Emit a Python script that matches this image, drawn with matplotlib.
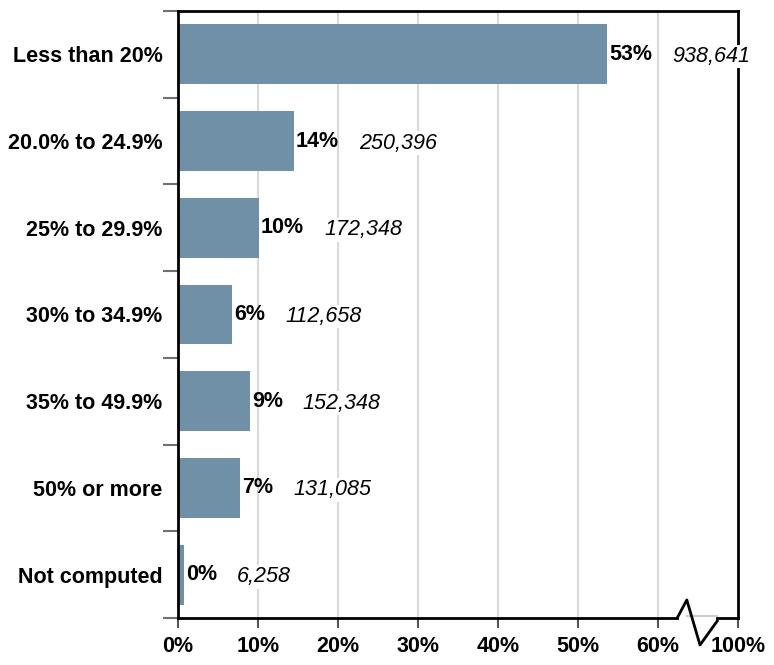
import matplotlib.pyplot as plt
import matplotlib.transforms as mtransforms

plt.rcParams['font.family'] = ['Liberation Sans', 'DejaVu Sans']

categories = ["Less than 20%", "20.0% to 24.9%", "25% to 29.9%", "30% to 34.9%",
              "35% to 49.9%", "50% or more", "Not computed"]
shares = [53.6, 14.5, 10.1, 6.8, 9.0, 7.8, 0.75]
pct_labels = ["53%", "14%", "10%", "6%", "9%", "7%", "0%"]
counts = ["938,641", "250,396", "172,348", "112,658", "152,348", "131,085", "6,258"]
xticks = [0, 10, 20, 30, 40, 50, 60, 70]
xtick_labels = ["0%", "10%", "20%", "30%", "40%", "50%", "60%", "100%"]

bar_color = "#7090a8"
fs = 15.5

fig = plt.figure(figsize=(7.74, 6.65), dpi=100)
ax = fig.add_axes([0.230, 0.0707, 0.7235, 0.9128])

ypos = list(range(len(categories)))
ax.barh(ypos, shares, height=0.69, color=bar_color, zorder=2)

ax.set_xlim(0, 70)
ax.set_ylim(6.5, -0.5)

# grid
for x in xticks[1:-1]:
    ax.axvline(x, color="#d9d9d9", lw=1.5, zorder=0)

# labels
for y, v, p, c in zip(ypos, shares, pct_labels, counts):
    ax.annotate(p, (v, y), xytext=(1.5, 0), textcoords="offset points",
                va="center", ha="left", fontsize=fs, fontweight="bold", zorder=4)
    off = 47 if len(p) == 3 else 38
    ax.annotate(c, (v, y), xytext=(off, -1.5), textcoords="offset points",
                va="center", ha="left", fontsize=fs, fontstyle="italic", zorder=4,
                bbox=dict(facecolor="white", edgecolor="none", pad=1))

# axes ticks
ax.set_yticks(ypos)
ax.set_yticklabels(categories, fontsize=fs, fontweight="bold")
ax.set_yticks([i - 0.5 for i in range(len(categories) + 1)], minor=True)
ax.tick_params(axis="y", which="major", length=0, pad=11)
ax.tick_params(axis="y", which="minor", length=11, width=1.5, color="#707070", direction="out")
ax.set_xticks(xticks)
ax.set_xticklabels(xtick_labels, fontsize=fs, fontweight="bold")
ax.tick_params(axis="x", length=7, width=1.5, color="#555555", pad=6)

for side in ["left", "top", "right"]:
    ax.spines[side].set_linewidth(2)
    ax.spines[side].set_color("black")
ax.spines["bottom"].set_visible(False)

# bottom axis with break
trans = mtransforms.blended_transform_factory(ax.transData, ax.transAxes)
ax.plot([0, 62.4], [0, 0], color="black", lw=2, transform=trans, clip_on=False, zorder=5)
ax.plot([67.4, 70], [0, 0], color="black", lw=2, transform=trans, clip_on=False, zorder=5)
ax.plot([63.6, 67.4], [0.003, 0.003], color="#cccccc", lw=1.5, transform=trans, clip_on=False, zorder=4)
ax.plot([62.4, 63.6, 65.25, 67.4], [0, 0.0297, -0.0445, -0.005], color="black", lw=2,
        transform=trans, clip_on=False, zorder=5)

fig.savefig("out.png", dpi=100)
